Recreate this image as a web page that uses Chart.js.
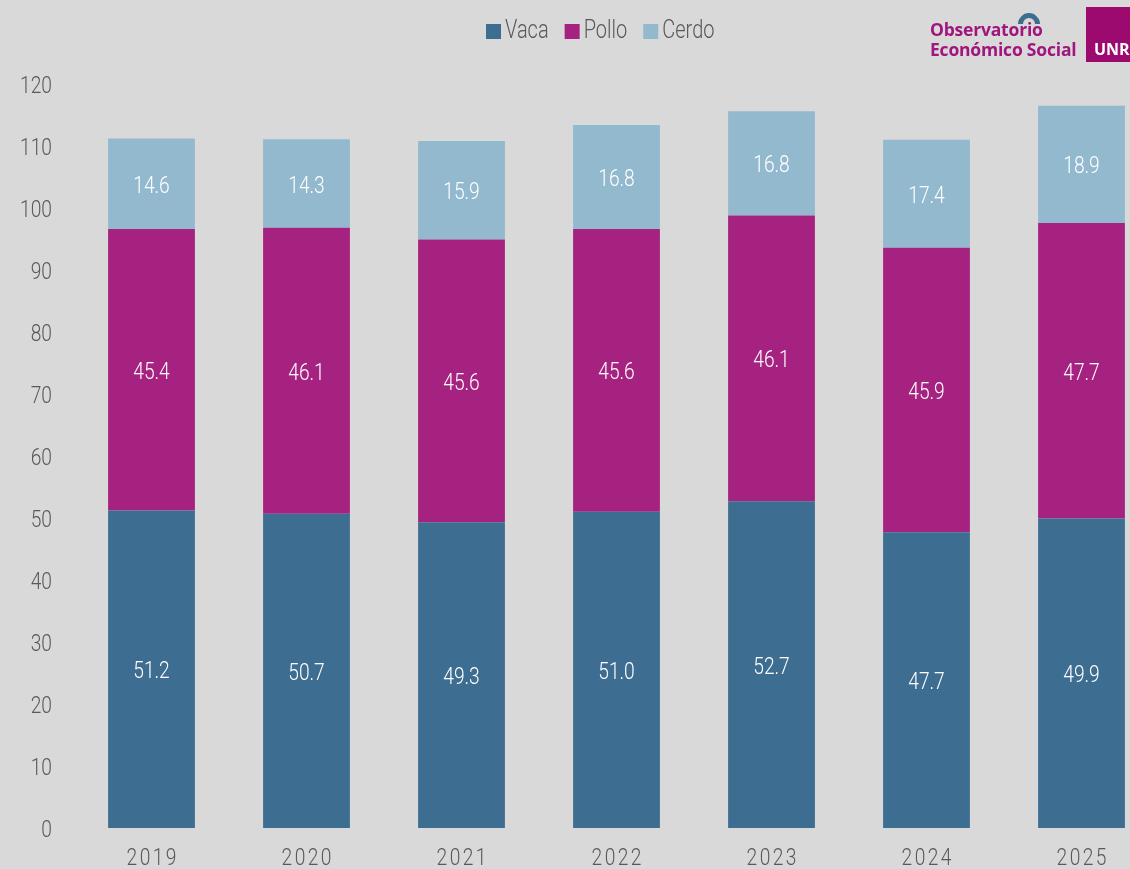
<!DOCTYPE html>
<html>
<head>
<meta charset="utf-8">
<script src="https://cdn.jsdelivr.net/npm/chart.js@4"></script>
<style>
  html, body { margin: 0; padding: 0; background: #d9d9d9; overflow: hidden; }
  #wrap { position: relative; width: 1130px; height: 869px; overflow: hidden; }
  #box { position: absolute; left: 0; top: 0; width: 1159px; height: 869px; }
  #logo { position: absolute; left: 930px; top: 19px; font-family: "Open Sans", sans-serif;
    font-weight: 700; font-size: 17.5px; line-height: 20px; color: #a0157e; letter-spacing: -0.2px; }
  #arc { position: absolute; left: 1018px; top: 13px; width: 12px; height: 12px;
    border: 5px solid #3d6e91; border-bottom-color: transparent; border-left-color: transparent;
    border-radius: 50%; transform: rotate(-45deg); }
  #unr { position: absolute; left: 1086px; top: 7px; width: 60px; height: 55px; background: #9c0a70;
    color: #fff; font-family: "Open Sans", sans-serif; font-weight: 700; font-size: 16px; }
  #unr span { position: absolute; left: 8px; top: 32px; line-height: 20px; }
</style>
</head>
<body>
<div id="wrap">
  <div id="box"><canvas id="chart"></canvas></div>
  <div id="logo">Observatorio<br>Económico Social</div>
  <div id="arc"></div>
  <div id="unr"><span>UNR</span></div>
</div>
<script>
// Data
const years = ['2019', '2020', '2021', '2022', '2023', '2024', '2025'];
const vaca = [51.2, 50.7, 49.3, 51.0, 52.7, 47.7, 49.9];
const pollo = [45.4, 46.1, 45.6, 45.6, 46.1, 45.9, 47.7];
const cerdo = [14.6, 14.3, 15.9, 16.8, 16.8, 17.4, 18.9];
const yTicks = [0, 10, 20, 30, 40, 50, 60, 70, 80, 90, 100, 110, 120];

const series = [
  { label: 'Vaca', data: vaca, color: '#3d6e91' },
  { label: 'Pollo', data: pollo, color: '#a62280' },
  { label: 'Cerdo', data: cerdo, color: '#93b9cf' }
];

const textGray = '#595959';
const SX = 0.8; // horizontal squeeze, reference uses a condensed face
const DY = 3;   // roboto sits a bit high with 'middle'

// draws condensed text
function txt(ctx, s, x, y, align, font, color, spacing) {
  ctx.save();
  ctx.font = font;
  ctx.fillStyle = color;
  ctx.textBaseline = 'middle';
  ctx.letterSpacing = (spacing || 0) + 'px';
  let w = ctx.measureText(s).width - (spacing || 0);
  ctx.translate(x, y + DY);
  ctx.scale(SX, 1);
  ctx.textAlign = 'left';
  let x0 = 0;
  if (align === 'center') x0 = -w / 2;
  if (align === 'right') x0 = -w;
  ctx.fillText(s, x0, 0);
  ctx.restore();
  return w * SX;
}

const textPlugin = {
  id: 'textPlugin',
  afterDraw(chart) {
    const ctx = chart.ctx;
    const xs = chart.scales.x;
    const ys = chart.scales.y;

    // y ticks
    yTicks.forEach(v => {
      txt(ctx, String(v), 52, ys.getPixelForValue(v), 'right', '300 24px Roboto', textGray);
    });

    // years
    years.forEach((y, i) => {
      txt(ctx, y, xs.getPixelForTick(i), 856, 'center', '300 24px Roboto', textGray, 3);
    });

    // values inside segments
    chart.data.datasets.forEach((ds, i) => {
      chart.getDatasetMeta(i).data.forEach((el, j) => {
        txt(ctx, ds.data[j].toFixed(1), el.x, (el.y + el.base) / 2, 'center', '300 24px Roboto', '#ffffff');
      });
    });

    // legend
    let lx = 486;
    series.forEach(s => {
      ctx.fillStyle = s.color;
      ctx.fillRect(lx, 24, 15, 15);
      lx += 19;
      lx += txt(ctx, s.label, lx, 29, 'left', '300 25px Roboto', textGray);
      lx += 16;
    });
  }
};

new Chart(document.getElementById('chart'), {
  type: 'bar',
  data: {
    labels: years,
    datasets: series.map(s => ({
      label: s.label,
      data: s.data,
      backgroundColor: s.color,
      borderWidth: 0,
      barPercentage: 0.56,
      categoryPercentage: 1
    }))
  },
  options: {
    responsive: true,
    maintainAspectRatio: false,
    animation: false,
    layout: { padding: { top: 84, right: 0, bottom: 0, left: 0 } },
    scales: {
      x: {
        stacked: true,
        grid: { display: false },
        border: { display: false },
        ticks: { display: false },
        afterFit: (s) => { s.height = 41; }
      },
      y: {
        stacked: true,
        min: 0,
        max: 120,
        afterBuildTicks: (s) => { s.ticks = yTicks.map(v => ({ value: v })); },
        grid: { display: false },
        border: { display: false },
        ticks: { display: false },
        afterFit: (s) => { s.width = 74; }
      }
    },
    plugins: {
      legend: { display: false },
      tooltip: { enabled: false }
    }
  },
  plugins: [textPlugin]
});
</script>
</body>
</html>
